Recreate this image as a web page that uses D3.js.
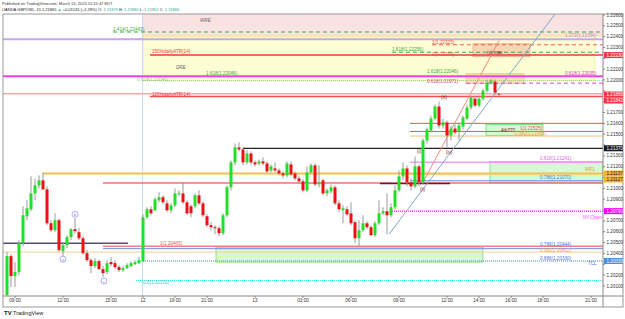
<!DOCTYPE html>
<meta charset="utf-8">
<style>
body { margin: 0; background: #fff; }
svg { display: block; font-family: "Liberation Sans", Arial, sans-serif; }
</style>
<svg width="625" height="319"></svg>
<script src="https://cdn.jsdelivr.net/npm/d3@7"></script>
<script>

// 15m bars [open, high, low, close]; Fri 10 Mar from 08:30, then Sun 12 Mar 17:00 ->
var ohlc = [
  [1.20016,1.20412,1.20007,1.20375],[1.20375,1.20393,1.20090,1.20191],[1.20191,1.20320,1.20090,1.20228],
  [1.20228,1.20522,1.20200,1.20494],[1.20494,1.20835,1.20467,1.20752],[1.20743,1.20890,1.20706,1.20816],
  [1.20807,1.21111,1.20789,1.20954],[1.20954,1.21092,1.20890,1.21028],[1.21028,1.21120,1.21000,1.21074],
  [1.21074,1.21148,1.20982,1.20991],[1.20991,1.21019,1.20660,1.20678],[1.20678,1.20706,1.20596,1.20614],
  [1.20614,1.20770,1.20596,1.20706],[1.20706,1.20724,1.20412,1.20430],[1.20421,1.20494,1.20375,1.20476],
  [1.20476,1.20568,1.20448,1.20550],[1.20550,1.20632,1.20522,1.20623],[1.20623,1.20724,1.20586,1.20605],
  [1.20596,1.20632,1.20522,1.20540],[1.20540,1.20559,1.20384,1.20402],[1.20402,1.20430,1.20320,1.20338],
  [1.20338,1.20356,1.20218,1.20283],[1.20283,1.20356,1.20264,1.20329],[1.20329,1.20347,1.20246,1.20255],
  [1.20255,1.20283,1.20182,1.20218],[1.20228,1.20338,1.20209,1.20310],[1.20320,1.20366,1.20283,1.20301],
  [1.20310,1.20338,1.20255,1.20274],[1.20274,1.20292,1.20228,1.20246],[1.20246,1.20283,1.20228,1.20264],
  [1.20264,1.20310,1.20255,1.20292],[1.20283,1.20329,1.20274,1.20310],[1.20301,1.20338,1.20292,1.20320],
  [1.20310,1.20366,1.20301,1.20338],
  // Sunday open
  [1.20329,1.20761,1.20320,1.20734],[1.20734,1.20826,1.20715,1.20807],[1.20807,1.20835,1.20752,1.20770],
  [1.20798,1.20918,1.20789,1.20899],[1.20890,1.20964,1.20872,1.20918],[1.20918,1.20936,1.20853,1.20872],
  [1.20862,1.20890,1.20780,1.20798],[1.20798,1.20862,1.20770,1.20844],[1.20844,1.21000,1.20826,1.20954],
  [1.20945,1.20982,1.20927,1.20954],[1.20954,1.21056,1.20853,1.20872],[1.20872,1.20890,1.20752,1.20770],
  [1.20835,1.20853,1.20734,1.20770],[1.20835,1.20954,1.20816,1.20936],[1.20936,1.20982,1.20844,1.20862],
  [1.20862,1.20881,1.20734,1.20752],[1.20743,1.20761,1.20642,1.20660],[1.20660,1.20688,1.20614,1.20642],
  [1.20642,1.20660,1.20577,1.20632],[1.20632,1.20651,1.20559,1.20586],[1.20586,1.20770,1.20568,1.20752],
  [1.20752,1.21028,1.20734,1.21010],[1.21010,1.21258,1.20982,1.21240],[1.21240,1.21414,1.21212,1.21378],
  [1.21378,1.21424,1.21341,1.21359],[1.21359,1.21378,1.21212,1.21240],[1.21240,1.21350,1.21221,1.21322],
  [1.21322,1.21341,1.21221,1.21240],[1.21240,1.21258,1.21203,1.21221],[1.21230,1.21267,1.21212,1.21249],
  [1.21249,1.21286,1.21212,1.21230],[1.21230,1.21249,1.21138,1.21157],[1.21166,1.21221,1.21148,1.21203],
  [1.21184,1.21240,1.21148,1.21166],[1.21166,1.21184,1.21120,1.21138],[1.21138,1.21157,1.21092,1.21120],
  [1.21120,1.21249,1.21102,1.21230],[1.21221,1.21249,1.21111,1.21129],[1.21138,1.21157,1.21074,1.21092],
  [1.21092,1.21111,1.21046,1.21065],[1.21065,1.21083,1.20964,1.20982],[1.20982,1.21203,1.20964,1.21148],
  [1.21148,1.21230,1.21129,1.21212],[1.21212,1.21230,1.21019,1.21037],[1.21037,1.21212,1.21010,1.21056],
  [1.21074,1.21092,1.20936,1.20954],[1.20954,1.21000,1.20927,1.20982],[1.20973,1.21037,1.20954,1.21010],
  [1.21010,1.21028,1.20844,1.20862],[1.20862,1.20890,1.20780,1.20807],[1.20798,1.20844,1.20678,1.20816],
  [1.20807,1.20835,1.20743,1.20761],[1.20770,1.20872,1.20660,1.20678],[1.20688,1.20706,1.20494,1.20540],
  [1.20540,1.20706,1.20467,1.20614],[1.20614,1.20752,1.20596,1.20678],[1.20678,1.20697,1.20623,1.20642],
  [1.20642,1.20660,1.20559,1.20568],[1.20568,1.20697,1.20550,1.20678],[1.20678,1.20890,1.20660,1.20770],
  [1.20770,1.20826,1.20752,1.20789],[1.20789,1.20954,1.20577,1.20752],[1.20752,1.20862,1.20734,1.20826],
  [1.20826,1.21028,1.20807,1.20982],[1.20982,1.21166,1.20964,1.21111],[1.21111,1.21240,1.21074,1.21184],
  [1.21184,1.21212,1.21019,1.21056],[1.21056,1.21092,1.20982,1.21019],[1.21019,1.21295,1.21000,1.21203],
  [1.21203,1.21221,1.21019,1.21056],[1.21056,1.21460,1.21037,1.21442],[1.21442,1.21562,1.21414,1.21543],
  [1.21534,1.21672,1.21516,1.21644],[1.21644,1.21773,1.21626,1.21755],[1.21755,1.21801,1.21552,1.21580],
  [1.21580,1.21644,1.21552,1.21608],[1.21608,1.21626,1.21378,1.21488],[1.21488,1.21580,1.21442,1.21552],
  [1.21552,1.21589,1.21497,1.21516],[1.21525,1.21608,1.21442,1.21580],[1.21571,1.21672,1.21543,1.21654],
  [1.21644,1.21773,1.21626,1.21746],[1.21746,1.21856,1.21727,1.21838],[1.21828,1.21856,1.21746,1.21764],
  [1.21764,1.21856,1.21746,1.21828],[1.21828,1.21920,1.21810,1.21902],[1.21902,1.22003,1.21884,1.21976],
  [1.21976,1.22012,1.21957,1.21994],[1.21985,1.22003,1.21856,1.21884],[1.21873,1.21880,1.21852,1.21866]
];

// time axis labels: [bar index, text]
var timeTicks = [[2,"09:00"],[14,"12:00"],[26,"15:00"],[34,"12"],[42,"19:00"],[50,"21:00"],[62,"13"],
  [74,"03:00"],[86,"06:00"],[98,"09:00"],[110,"12:00"],[118,"14:00"],[126,"16:00"],[134,"18:00"],[146,"21:00"]];

var priceTicks = d3.range(1201, 1227).map(function(d) { return d / 1000; });

// shaded zones: [top, bottom, from bar, to bar, fill, stroke]
var zones = [
  [1.22609, 1.22426, 34, 149, "#f9e2e2", null],
  [1.22426, 1.22399, 34, 149, "#f6e2c6", null],
  [1.22399, 1.21994, 34, 147, "#fdfdd3", "#f2f28a"],
  [1.22334, 1.22215, 116.5, 130.75, "rgba(236,170,140,0.45)", "#e6a68e"],
  [1.22058, 1.21966, 114.75, 129.25, "rgba(236,190,120,0.45)", "#e8c08e"],
  [1.21589, 1.21488, 119.75, 134, "#d6f8d2", "#66dd66"],
  [1.21249, 1.21051, 120.75, 149, "#d6f8d2", "#66dd66"],
  [1.20458, 1.20320, 52.25, 119, "#d6f8d2", "#66dd66"]
];

// horizontal levels: [price, from bar, to bar, colour, width, dash]
var levels = [
  [1.22443, 26.5, 149, "#3aa845", 1, "4,3"],
  [1.22376, -1, 149, "#caa4ea", 2, null],
  [1.22325, 106.25, 149, "#f05a5a", 1, "4,3"],
  [1.22256, 96.25, 149, "#3aa845", 1, "4,3"],
  [1.22230, 35.75, 149, "#f23645", 1.5, null],
  [1.22035, -1, 149, "#f040f0", 2, null],
  [1.21994, 34, 149, "#90d090", 1, "1,1"],
  [1.21971, 114.75, 149, "#e040e0", 1, "4,3"],
  [1.21874, -1, 149, "#f5a8a8", 1.5, null],
  [1.21847, 35.75, 149, "#f05050", 1.5, null],
  [1.21600, 100.75, 149, "#f05050", 1, null],
  [1.21525, 100.75, 149, "#f05050", 1, null],
  [1.21483, 100.75, 149, "#f8c070", 1, null],
  [1.21370, 59, 149, "#222222", 1.2, null],
  [1.21241, 100.75, 149, "#f0a0f0", 1.5, null],
  [1.21137, 9, 149, "#f5c050", 2, null],
  [1.21127, 100.75, 149, "#f8d080", 1, null],
  [1.21070, 100.75, 149, "#6a84f0", 1, null],
  [1.21050, 24, 149, "#f07070", 1.5, null],
  [1.21046, 93.25, 110.75, "#7a1030", 1.5, null],
  [1.20790, 96.25, 149, "#ff40ff", 1.5, "1,1"],
  [1.20494, -1, 30.25, "#5a4a7a", 1.5, null],
  [1.20465, 24, 149, "#f08080", 1.5, null],
  [1.20444, 24, 149, "#7090f0", 1, null],
  [1.20412, -1, 149, "#f8d098", 1, null],
  [1.20330, 34, 149, "#80a8e0", 1.5, "1,1"],
  [1.20150, 32.25, 149, "#40e0e8", 1, "1,1"]
];

// trend lines: [bar1, price1, bar2, price2, colour]
var trends = [
  [95.5, 1.20577, 137, 1.22609, "#7ea7c9"],
  [104.25, 1.21074, 123, 1.22362, "#f08a80"]
];

// drawing labels: [bar, price, text, colour, style]
var notes = [
  [48.25, 1.22537, "WRE", "#666", "italic"],
  [42.25, 1.22104, "DRE", "#666", "italic"],
  [26.5, 1.22449, "1.414(1.22443)", "#3aa845"],
  [36.25, 1.22252, "150%dailyATR(14)", "#f23645"],
  [49.75, 1.22045, "1.618(1.22046)", "#3aa845"],
  [32.5, 1.21989, "0.618(1.22046)", "#8fc88f"],
  [36.25, 1.21856, "120%dailyATR(14)", "#f23645"],
  [139.5, 1.22394, "1.272(1.22394)", "#b890e0"],
  [106.25, 1.2233, "1(1.22325)", "#f05050"],
  [96.25, 1.2227, "1.618(1.22256)", "#3aa845"],
  [106.25, 1.22224, "1(1.22230)", "#f05050"],
  [120, 1.22242, "(v) max", "#8b1a1a"],
  [105, 1.22068, "1.618(1.22046)", "#3aa845"],
  [105, 1.21976, "0.618(1.21971)", "#e04080"],
  [139.5, 1.22049, "0.618(1.22035)", "#d040d0"],
  [108.5, 1.21828, "(iii)", "#8b1a1a"],
  [128.25, 1.21543, "1(1.21525)", "#f05050"],
  [127, 1.21493, "0.382(1.21483)", "#f0a030"],
  [123.5, 1.21520, "4th???", "#8b1a1a"],
  [102.5, 1.21322, "(i)", "#8b1a1a"],
  [109.75, 1.21318, "(iv)", "#8b1a1a"],
  [103.25, 1.20973, "(ii)", "#8b1a1a"],
  [133.25, 1.21263, "0.618(1.21241)", "#e060e0"],
  [144.5, 1.21161, "MR1", "#e8a030"],
  [133.25, 1.21083, "0.786(1.21070)", "#5070e0"],
  [144, 1.2072, "NY Open", "#ff40ff"],
  [38.25, 1.20476, "1(1.20465)", "#f05050"],
  [133.25, 1.20467, "0.786(1.20444)", "#5070e0"],
  [133.25, 1.20416, "0.382(1.20412)", "#f0a030"],
  [133.25, 1.20338, "0.886(1.20330)", "#5070e0"],
  [145.25, 1.20297, "TCL", "#5070e0"],
  [34, 1.20122, "0.5(1.20150)", "#30d0d8"]
];

// circled wave letters: [bar, price, letter]
var circles = [[17, 1.20761, "b"], [14, 1.20347, "a"], [24.25, 1.20145, "c"]];

// price scale tags: [price, text, background, text colour]
var tags = [
  [1.22230, "1.22230", "#f23645", "#fff"],
  [1.21866, "1.21866", "#f23645", "#fff"],
  [1.21842, "1.21842", "#f23645", "#fff"],
  [1.21370, "1.21370", "#131722", "#fff"],
  [1.21137, "1.21137", "#f5b335", "#222"],
  [1.21127, "1.21127", "#f5b335", "#222"],
  [1.20790, "1.20790", "#ff00ff", "#fff"],
  [1.20330, "1.20330", "#4a8ee0", "#fff"]
];

var svg = d3.select("svg");
var padL = 3, padR = 603, padT = 14, padB = 296;

var x = d3.scaleLinear().domain([-1, 149]).range([padL, padR]);
var y = d3.scaleLinear().domain([1.20007, 1.22609]).range([padB, padT]);

svg.append("defs").append("clipPath").attr("id", "clip")
  .append("rect").attr("x", padL).attr("y", padT).attr("width", padR - padL).attr("height", padB - padT);

var plot = svg.append("g").attr("clip-path", "url(#clip)");

// zones
plot.selectAll(".zone").data(zones).enter().append("rect")
  .attr("x", function(d) { return x(d[2]); })
  .attr("y", function(d) { return y(d[0]); })
  .attr("width", function(d) { return x(d[3]) - x(d[2]); })
  .attr("height", function(d) { return y(d[1]) - y(d[0]); })
  .attr("fill", function(d) { return d[4]; })
  .attr("stroke", function(d) { return d[5] || "none"; })
  .attr("stroke-width", 0.8);

// day separator
plot.append("line")
  .attr("x1", x(33.9)).attr("x2", x(33.9)).attr("y1", padT).attr("y2", padB)
  .attr("stroke", "#c6daf2").attr("stroke-width", 1);

// levels
plot.selectAll(".lvl").data(levels).enter().append("line")
  .attr("x1", function(d) { return x(d[1]); })
  .attr("x2", function(d) { return x(d[2]); })
  .attr("y1", function(d) { return y(d[0]); })
  .attr("y2", function(d) { return y(d[0]); })
  .attr("stroke", function(d) { return d[3]; })
  .attr("stroke-width", function(d) { return d[4]; })
  .attr("stroke-dasharray", function(d) { return d[5]; });

// trend lines
plot.selectAll(".trend").data(trends).enter().append("line")
  .attr("x1", function(d) { return x(d[0]); })
  .attr("y1", function(d) { return y(d[1]); })
  .attr("x2", function(d) { return x(d[2]); })
  .attr("y2", function(d) { return y(d[3]); })
  .attr("stroke", function(d) { return d[4]; })
  .attr("stroke-width", 1);

// candles
var bars = plot.selectAll(".bar").data(ohlc).enter().append("g");
bars.append("line")
  .attr("x1", function(d, i) { return x(i); })
  .attr("x2", function(d, i) { return x(i); })
  .attr("y1", function(d) { return y(d[1]); })
  .attr("y2", function(d) { return y(d[2]); })
  .attr("stroke", "#999").attr("stroke-width", 1);
bars.append("rect")
  .attr("x", function(d, i) { return x(i) - 1.5; })
  .attr("width", 3)
  .attr("y", function(d) { return y(Math.max(d[0], d[3])); })
  .attr("height", function(d) { return Math.max(0.8, Math.abs(y(d[0]) - y(d[3]))); })
  .attr("fill", function(d) { return d[3] >= d[0] ? "#22e022" : "#ee1111"; });

// notes
plot.selectAll(".note").data(notes).enter().append("text")
  .attr("x", function(d) { return x(d[0]); })
  .attr("y", function(d) { return y(d[1]); })
  .attr("fill", function(d) { return d[3]; })
  .attr("font-style", function(d) { return d[4] || null; })
  .attr("font-size", 4.6)
  .text(function(d) { return d[2]; });

var circ = plot.selectAll(".circ").data(circles).enter().append("g")
  .attr("transform", function(d) { return "translate(" + x(d[0]) + "," + y(d[1]) + ")"; });
circ.append("circle").attr("r", 3).attr("fill", "none").attr("stroke", "#8a8ae6").attr("stroke-width", 0.7);
circ.append("text").attr("text-anchor", "middle").attr("y", 1.6).attr("font-size", 4.4)
  .attr("fill", "#8a8ae6").text(function(d) { return d[2]; });

// frame and axes
svg.append("rect").attr("x", padL).attr("y", padT).attr("width", 620).attr("height", 293)
  .attr("fill", "none").attr("stroke", "#999").attr("stroke-width", 1);
svg.append("line").attr("x1", padR).attr("x2", padR).attr("y1", padT).attr("y2", 307)
  .attr("stroke", "#888");
svg.append("line").attr("x1", padL).attr("x2", 623).attr("y1", padB).attr("y2", padB)
  .attr("stroke", "#888");

var tagY = tags.map(function(d) { return y(d[0]); });
for (var k = 1; k < tagY.length; k++) {
  if (tagY[k] - tagY[k - 1] < 6) tagY[k] = tagY[k - 1] + 6;
}

var ya = svg.append("g");
priceTicks.forEach(function(p) {
  var py = y(p);
  if (py < padT || py > padB - 2) return;
  var hidden = tagY.some(function(t) { return Math.abs(t - py) < 5; });
  ya.append("line").attr("x1", padR).attr("x2", padR + 2).attr("y1", py).attr("y2", py).attr("stroke", "#888");
  if (!hidden) {
    ya.append("text").attr("x", padR + 3.5).attr("y", py + 1.6).attr("font-size", 4.6)
      .attr("fill", "#333").text(d3.format(".5f")(p));
  }
});

tags.forEach(function(d, k) {
  var ty = tagY[k];
  ya.append("rect").attr("x", padR + 1).attr("y", ty - 3).attr("width", 19).attr("height", 6)
    .attr("fill", d[2]);
  ya.append("text").attr("x", padR + 3.5).attr("y", ty + 1.6).attr("font-size", 4.6)
    .attr("fill", d[3]).text(d[1]);
});

var xa = svg.append("g");
timeTicks.forEach(function(t) {
  xa.append("line").attr("x1", x(t[0])).attr("x2", x(t[0])).attr("y1", padB).attr("y2", padB + 2).attr("stroke", "#888");
  xa.append("text").attr("x", x(t[0])).attr("y", 302).attr("text-anchor", "middle")
    .attr("font-size", 4.6).attr("fill", "#333").text(t[1]);
});

// header
svg.append("text").attr("x", 2).attr("y", 5).attr("font-size", 4).attr("fill", "#333")
  .text("Published on TradingView.com, March 13, 2023 15:15:47 EDT");
var hd = svg.append("text").attr("x", 2).attr("y", 11).attr("font-size", 4).attr("fill", "#222");
hd.append("tspan").text("OANDA:GBPUSD, 15  1.21865 ");
hd.append("tspan").attr("fill", "#26a69a").text("\u25B2");
hd.append("tspan").text(" +0.01535 (+1.28%) O: ");
hd.append("tspan").attr("fill", "#26a69a").text("1.21873");
hd.append("tspan").text(" H: ");
hd.append("tspan").attr("fill", "#26a69a").text("1.21880");
hd.append("tspan").text(" L: ");
hd.append("tspan").attr("fill", "#26a69a").text("1.21852");
hd.append("tspan").text(" C: ");
hd.append("tspan").attr("fill", "#26a69a").text("1.21866");

// logo
svg.append("text").attr("x", 4).attr("y", 315).attr("font-size", 6).attr("font-weight", "bold")
  .attr("fill", "#131722").text("TV");
svg.append("text").attr("x", 13).attr("y", 315).attr("font-size", 5.5)
  .attr("fill", "#131722").text("TradingView");

</script>
